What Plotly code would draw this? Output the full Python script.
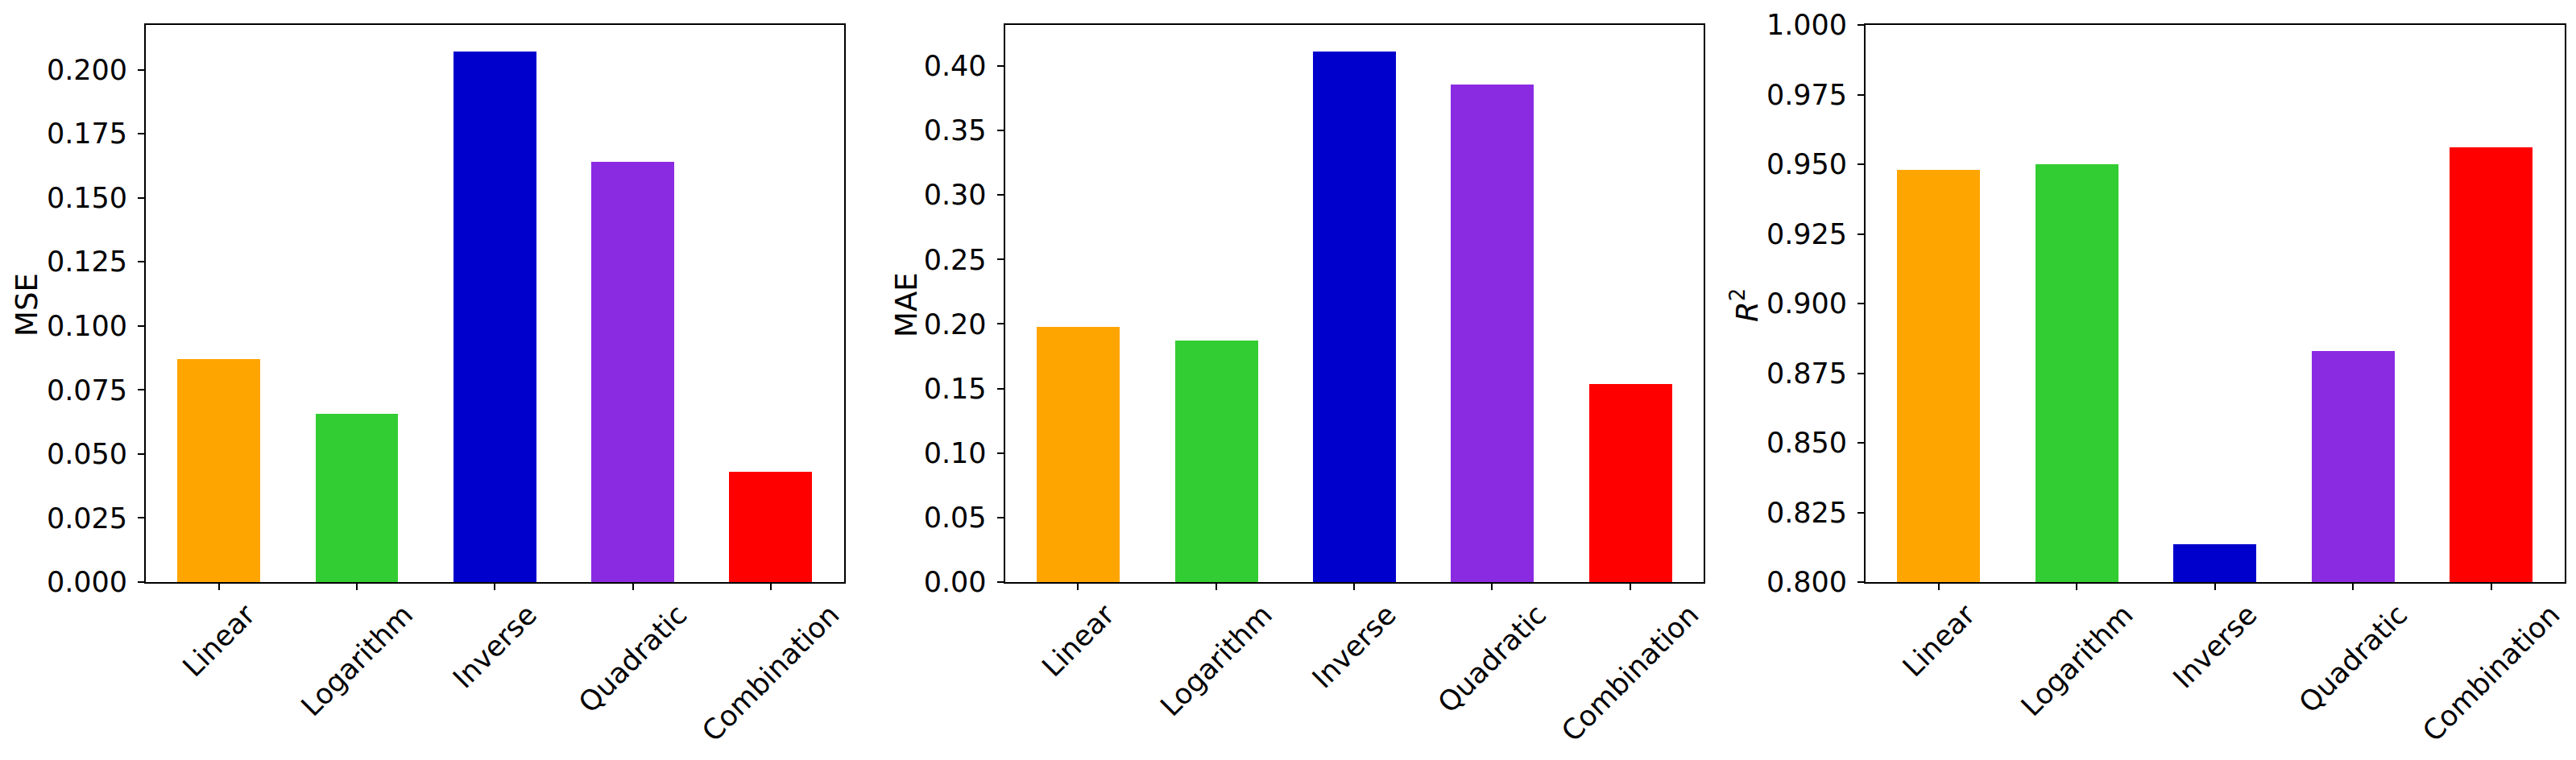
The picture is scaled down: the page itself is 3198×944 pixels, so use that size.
import math
import plotly.graph_objects as go

categories = ["Linear", "Logarithm", "Inverse", "Quadratic", "Combination"]
colors = ["#FFA500", "#32CD32", "#0000CD", "#8A2BE2", "#FF0000"]
mse = [0.0870, 0.0658, 0.2071, 0.1640, 0.0430]
mae = [0.198, 0.1874, 0.4112, 0.3857, 0.1536]
r2 = [0.948, 0.950, 0.8136, 0.883, 0.956]

W, H = 3198, 944
FONT = "DejaVu Sans"
FS = 35
XR = [-0.53, 4.53]
# approximate DejaVu Sans advance widths (em) used to centre rotated labels
ADV = {"L": .557, "i": .278, "n": .634, "e": .615, "a": .613, "r": .411, "o": .612,
       "g": .635, "t": .392, "h": .634, "m": .974, "I": .295, "v": .592, "s": .521,
       "Q": .787, "u": .634, "d": .635, "c": .550, "C": .698, "b": .635}

panels = [
    dict(vals=mse, title="MSE", rng=[0, max(mse) * 1.05], dtick=0.025, fmt=".3f",
         px=(181, 1047.5), title_x=33),
    dict(vals=mae, title="MAE", rng=[0, max(mae) * 1.05], dtick=0.05, fmt=".2f",
         px=(1247.5, 2114.5), title_x=1125),
    dict(vals=r2, title="<i>R</i><sup>2</sup>", rng=[0.8, 1.0], dtick=0.025, fmt=".3f",
         px=(2316, 3183.5), title_x=2166),
]
top_px, bot_px = 31, 723
ydom = [1 - bot_px / H, 1 - top_px / H]

fig = go.Figure()
annotations = []
xs = list(range(len(categories)))
for i, p in enumerate(panels):
    n = "" if i == 0 else str(i + 1)
    xa, ya = "x" + n, "y" + n
    ov = str(i + 4)
    base = p["rng"][0]
    fig.add_trace(go.Bar(
        x=xs, y=[v - base for v in p["vals"]], base=base,
        marker=dict(color=colors, line=dict(width=0)), width=0.6,
        xaxis=xa, yaxis=ya, showlegend=False, hoverinfo="skip"))
    # invisible helper trace so the label axis is drawn
    fig.add_trace(go.Scatter(x=[0], y=[base], mode="markers", opacity=0,
                             xaxis="x" + ov, yaxis=ya, showlegend=False,
                             hoverinfo="skip"))
    axis_common = dict(showline=True, linecolor="black", linewidth=1.8, mirror=True,
                       ticks="outside", ticklen=8, tickwidth=1.8, tickcolor="black",
                       showgrid=False, zeroline=False, automargin=False,
                       tickfont=dict(family=FONT, size=FS, color="black"))
    d0, d1 = p["px"][0] / W, p["px"][1] / W
    ppu = (p["px"][1] - p["px"][0]) / (XR[1] - XR[0])
    shifts = []
    for c in categories:
        L = sum(ADV[ch] for ch in c) * FS
        shifts.append((L - 0.31 * FS) / (2 * math.sqrt(2)) / ppu)
    fig.update_layout(**{
        "xaxis" + n: dict(domain=[d0, d1], anchor=ya, range=XR,
                          tickmode="array", tickvals=xs, showticklabels=False,
                          **axis_common),
        "xaxis" + ov: dict(domain=[d0, d1], anchor=ya, overlaying=xa, side="bottom",
                           range=XR, tickmode="array",
                           tickvals=[k + s for k, s in zip(xs, shifts)],
                           ticktext=categories, tickangle=-45, ticks="",
                           showline=False, showgrid=False, zeroline=False,
                           automargin=False, ticklabelstandoff=12,
                           tickfont=dict(family=FONT, size=FS, color="black")),
        "yaxis" + n: dict(domain=ydom, anchor=xa, range=p["rng"], dtick=p["dtick"],
                          tick0=0, tickformat=p["fmt"], ticklabelstandoff=6,
                          **axis_common),
    })
    annotations.append(dict(
        x=p["title_x"] / W, y=1 - 379 / H, xref="paper", yref="paper",
        text=p["title"], showarrow=False, textangle=-90,
        xanchor="center", yanchor="middle",
        font=dict(family=FONT, size=37, color="black")))

fig.update_layout(width=W, height=H, margin=dict(l=0, r=0, t=0, b=0, autoexpand=False),
                  template="none",
                  plot_bgcolor="white", paper_bgcolor="white",
                  annotations=annotations, bargap=0)
fig.write_html("out.html", config={"displayModeBar": False},
               post_script="document.body.style.margin='0';"
                           "document.body.style.overflow='hidden';")
